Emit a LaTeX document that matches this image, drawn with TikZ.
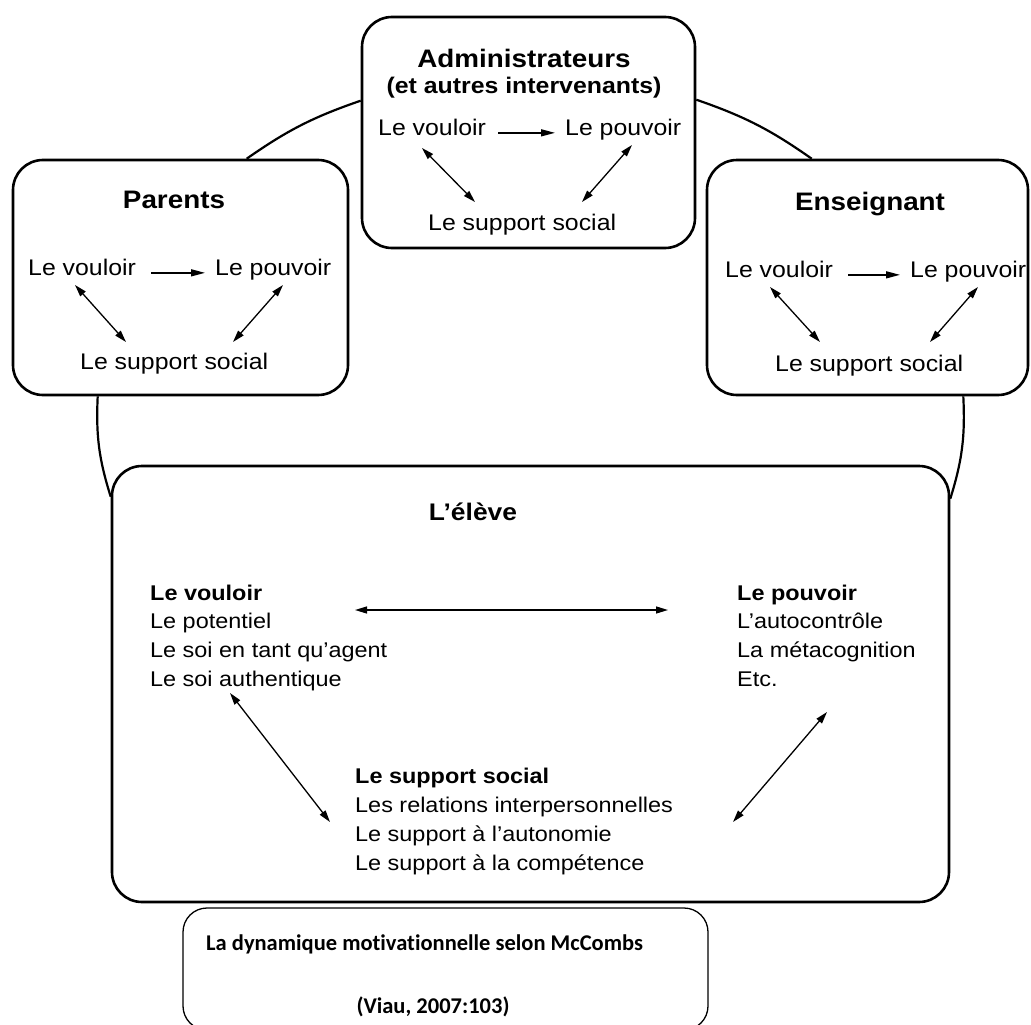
\documentclass[tikz,border=0pt]{standalone}
\usepackage{fontspec}
\newfontfamily\hv[FakeStretch=1.1]{Liberation Sans}
\newfontfamily\calib[Ligatures=NoCommon]{Carlito}
\usetikzlibrary{arrows.meta}
\newcommand\myfs[1]{\fontsize{#1}{#1}\selectfont}
\begin{document}
\begin{tikzpicture}[x=1pt,y=-1pt,
  box/.style={draw, line width=2.6pt, rounded corners=30pt, fill=white, inner sep=0pt},
  capbox/.style={draw, line width=1.3pt, rounded corners=24pt, inner sep=0pt},
  arcl/.style={line width=2.2pt},
  txt/.style={font=\hv\myfs{22.6}, inner sep=0pt, anchor=base west},
  ttl/.style={font=\hv\bfseries\myfs{25.3}, inner sep=0pt, anchor=base},
  subttl/.style={font=\hv\bfseries\myfs{22.6}, inner sep=0pt, anchor=base},
  etxt/.style={font=\hv\myfs{21.3}, inner sep=0pt, anchor=base west},
  ehd/.style={font=\hv\bfseries\myfs{21.3}, inner sep=0pt, anchor=base west},
  etitle/.style={font=\hv\bfseries\myfs{24}, inner sep=0pt, anchor=base},
  captxt/.style={font=\calib\bfseries\myfs{22.5}, inner sep=0pt},
  sarr/.style={line width=1.4pt, -{Triangle[length=14pt,width=7pt]}},
  darr/.style={line width=1.3pt, {Triangle[length=12pt,width=7pt]}-{Triangle[length=12pt,width=7pt]}}
]
\useasboundingbox (0,0) rectangle (1031,1025);
\fill[white] (0,0) rectangle (1031,1025);

% boxes
\node[box, minimum width=333pt, minimum height=231pt] (admin) at (528.5,132.5) {};
\node[box, minimum width=335pt, minimum height=235pt] (parents) at (180.5,277.5) {};
\node[box, minimum width=321pt, minimum height=235pt] (ens) at (867.5,277.5) {};
\node[box, minimum width=837pt, minimum height=436pt] (eleve) at (530.5,684) {};

% connecting arcs
\draw[arcl] ([xshift=235pt]parents.north west) to[bend left=8] ([yshift=-85pt]admin.north west);
\draw[arcl] ([yshift=-84pt]admin.north east) to[bend left=8] ([xshift=106pt]ens.north west);
\draw[arcl] ([xshift=86pt]parents.south west) to[bend right=10] ([yshift=-32pt]eleve.north west);
\draw[arcl] ([xshift=-66pt]ens.south east) to[bend left=10] ([yshift=-34pt]eleve.north east);

% Administrateurs
\node[ttl] (at1) at (524,68) {Administrateurs};
\node[subttl] (at2) at (524,93) {(et autres intervenants)};
\node[txt] (av) at (378,135) {Le vouloir};
\node[txt] (ap) at (565,135) {Le pouvoir};
\node[txt] (as) at (428,230) {Le support social};
\draw[sarr] ([xshift=12pt]av.mid east) -- ([xshift=-10pt]ap.mid west);
\draw[darr] ([shift={(44,13)}]av.base west) -- ([shift={(47,-28)}]as.base west);
\draw[darr] ([shift={(67,10)}]ap.base west) -- ([shift={(154,-28)}]as.base west);

% Parents
\node[ttl] (pt) at (174,208) {Parents};
\node[txt] (pv) at (28,275) {Le vouloir};
\node[txt] (pp) at (215,275) {Le pouvoir};
\node[txt] (ps) at (80,369) {Le support social};
\draw[sarr] ([xshift=15pt]pv.mid east) -- ([xshift=-10pt]pp.mid west);
\draw[darr] ([shift={(47,10)}]pv.base west) -- ([shift={(46,-27)}]ps.base west);
\draw[darr] ([shift={(68,10)}]pp.base west) -- ([shift={(153,-27)}]ps.base west);

% Enseignant
\node[ttl] (et) at (870,210) {Enseignant};
\node[txt] (ev) at (725,277) {Le vouloir};
\node[txt] (ep) at (910,277) {Le pouvoir};
\node[txt] (es) at (775,371) {Le support social};
\draw[sarr] ([xshift=15pt]ev.mid east) -- ([xshift=-10pt]ep.mid west);
\draw[darr] ([shift={(45,10)}]ev.base west) -- ([shift={(45,-29)}]es.base west);
\draw[darr] ([shift={(68,10)}]ep.base west) -- ([shift={(155,-29)}]es.base west);

% L'eleve
\node[etitle] (elt) at (473,520) {L’élève};
\node[ehd] (e1) at (150,600) {Le vouloir};
\node[etxt] (e2) at (150,628.7) {Le potentiel};
\node[etxt] (e3) at (150,657.4) {Le soi en tant qu’agent};
\node[etxt] (e4) at (150,686) {Le soi authentique};
\node[ehd] (r1) at (737,600) {Le pouvoir};
\node[etxt] (r2) at (737,628.7) {L’autocontrôle};
\node[etxt] (r3) at (737,657.4) {La métacognition};
\node[etxt] (r4) at (737,686) {Etc.};
\node[ehd] (s1) at (355,783) {Le support social};
\node[etxt] (s2) at (355,812) {Les relations interpersonnelles};
\node[etxt] (s3) at (355,841) {Le support à l’autonomie};
\node[etxt] (s4) at (355,870) {Le support à la compétence};
\draw[darr] ([shift={(205,10)}]e1.base west) -- ([shift={(-69,10)}]r1.base west);
\draw[darr] ([shift={(80,7)}]e4.base west) -- ([shift={(-25,10)}]s2.base west);
\draw[darr] ([shift={(90,26)}]r4.base west) -- ([shift={(378,10)}]s2.base west);

% caption
\begin{scope}
\clip (0,0) rectangle (1031,1025);
\node[capbox, minimum width=525pt, minimum height=122pt] (cap) at (445.5,969) {};
\end{scope}
\node[captxt, anchor=base west] (c1) at (206,950) {La dynamique motivationnelle selon McCombs};
\node[captxt, anchor=base] (c2) at (433,1013) {(Viau, 2007:103)};
\end{tikzpicture}
\end{document}
